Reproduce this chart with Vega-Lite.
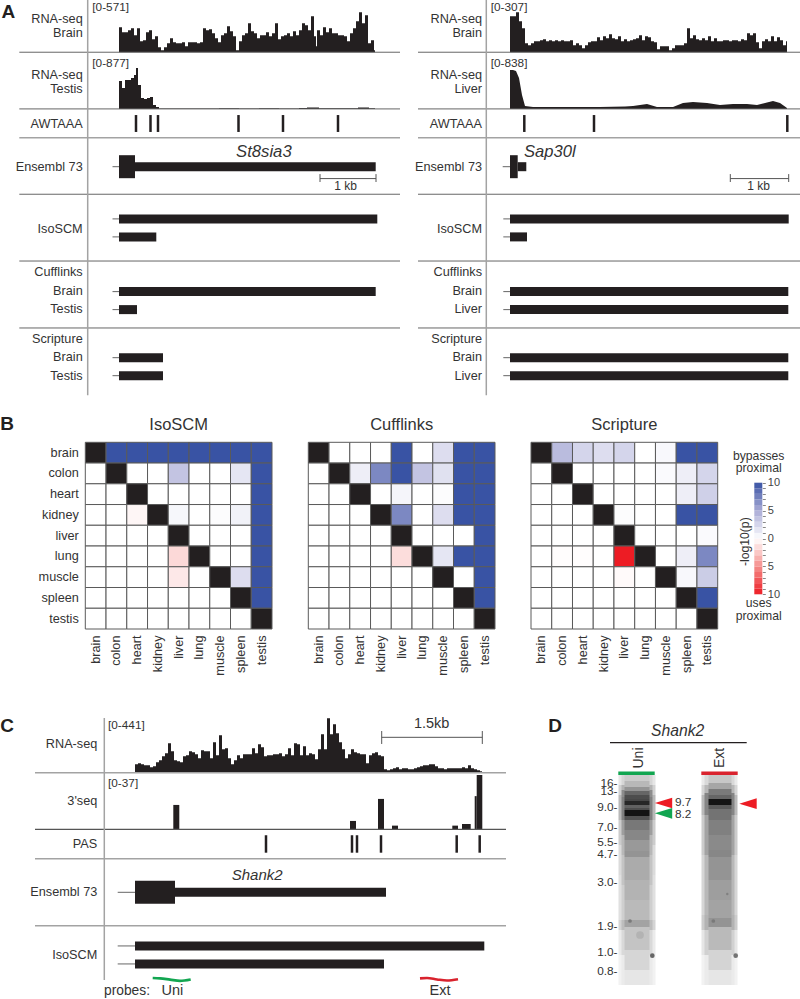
{"$schema":"https://vega.github.io/schema/vega-lite/v6.json","width":800,"height":999,"padding":0,"autosize":{"type":"none"},"background":"white",
"config":{"view":{"stroke":null},"text":{"font":"Liberation Sans","fontSize":12.7,"color":"#333333","baseline":"middle"},"axis":{"grid":false,"domain":false,"title":null,"labelFont":"Liberation Sans","labelColor":"#333333","labelFontSize":12.7}},
"resolve":{"scale":{"x":"independent","y":"independent","color":"independent","strokeWidth":"independent"},"axis":{"x":"independent","y":"independent"}},
"datasets":{
"heat":[
{"m":"IsoSCM","r":"brain","c":"brain","v":0},{"m":"IsoSCM","r":"brain","c":"colon","v":10},{"m":"IsoSCM","r":"brain","c":"heart","v":10},{"m":"IsoSCM","r":"brain","c":"kidney","v":10},{"m":"IsoSCM","r":"brain","c":"liver","v":10},{"m":"IsoSCM","r":"brain","c":"lung","v":10},{"m":"IsoSCM","r":"brain","c":"muscle","v":10},{"m":"IsoSCM","r":"brain","c":"spleen","v":10},{"m":"IsoSCM","r":"brain","c":"testis","v":10},
{"m":"IsoSCM","r":"colon","c":"brain","v":0},{"m":"IsoSCM","r":"colon","c":"colon","v":0},{"m":"IsoSCM","r":"colon","c":"heart","v":0},{"m":"IsoSCM","r":"colon","c":"kidney","v":0},{"m":"IsoSCM","r":"colon","c":"liver","v":3.5},{"m":"IsoSCM","r":"colon","c":"lung","v":0},{"m":"IsoSCM","r":"colon","c":"muscle","v":0},{"m":"IsoSCM","r":"colon","c":"spleen","v":1.5},{"m":"IsoSCM","r":"colon","c":"testis","v":10},
{"m":"IsoSCM","r":"heart","c":"brain","v":0},{"m":"IsoSCM","r":"heart","c":"colon","v":0},{"m":"IsoSCM","r":"heart","c":"heart","v":0},{"m":"IsoSCM","r":"heart","c":"kidney","v":0},{"m":"IsoSCM","r":"heart","c":"liver","v":0},{"m":"IsoSCM","r":"heart","c":"lung","v":0},{"m":"IsoSCM","r":"heart","c":"muscle","v":0},{"m":"IsoSCM","r":"heart","c":"spleen","v":0},{"m":"IsoSCM","r":"heart","c":"testis","v":10},
{"m":"IsoSCM","r":"kidney","c":"brain","v":0},{"m":"IsoSCM","r":"kidney","c":"colon","v":0},{"m":"IsoSCM","r":"kidney","c":"heart","v":-0.4},{"m":"IsoSCM","r":"kidney","c":"kidney","v":0},{"m":"IsoSCM","r":"kidney","c":"liver","v":0.5},{"m":"IsoSCM","r":"kidney","c":"lung","v":0},{"m":"IsoSCM","r":"kidney","c":"muscle","v":0.2},{"m":"IsoSCM","r":"kidney","c":"spleen","v":0.8},{"m":"IsoSCM","r":"kidney","c":"testis","v":10},
{"m":"IsoSCM","r":"liver","c":"brain","v":0},{"m":"IsoSCM","r":"liver","c":"colon","v":0},{"m":"IsoSCM","r":"liver","c":"heart","v":0},{"m":"IsoSCM","r":"liver","c":"kidney","v":0},{"m":"IsoSCM","r":"liver","c":"liver","v":0},{"m":"IsoSCM","r":"liver","c":"lung","v":0},{"m":"IsoSCM","r":"liver","c":"muscle","v":0},{"m":"IsoSCM","r":"liver","c":"spleen","v":0},{"m":"IsoSCM","r":"liver","c":"testis","v":10},
{"m":"IsoSCM","r":"lung","c":"brain","v":0},{"m":"IsoSCM","r":"lung","c":"colon","v":0},{"m":"IsoSCM","r":"lung","c":"heart","v":0},{"m":"IsoSCM","r":"lung","c":"kidney","v":0},{"m":"IsoSCM","r":"lung","c":"liver","v":-1.7},{"m":"IsoSCM","r":"lung","c":"lung","v":0},{"m":"IsoSCM","r":"lung","c":"muscle","v":0},{"m":"IsoSCM","r":"lung","c":"spleen","v":0},{"m":"IsoSCM","r":"lung","c":"testis","v":10},
{"m":"IsoSCM","r":"muscle","c":"brain","v":0},{"m":"IsoSCM","r":"muscle","c":"colon","v":0},{"m":"IsoSCM","r":"muscle","c":"heart","v":0},{"m":"IsoSCM","r":"muscle","c":"kidney","v":0},{"m":"IsoSCM","r":"muscle","c":"liver","v":-1},{"m":"IsoSCM","r":"muscle","c":"lung","v":0},{"m":"IsoSCM","r":"muscle","c":"muscle","v":0},{"m":"IsoSCM","r":"muscle","c":"spleen","v":2},{"m":"IsoSCM","r":"muscle","c":"testis","v":10},
{"m":"IsoSCM","r":"spleen","c":"brain","v":0},{"m":"IsoSCM","r":"spleen","c":"colon","v":0},{"m":"IsoSCM","r":"spleen","c":"heart","v":0},{"m":"IsoSCM","r":"spleen","c":"kidney","v":0},{"m":"IsoSCM","r":"spleen","c":"liver","v":0},{"m":"IsoSCM","r":"spleen","c":"lung","v":0},{"m":"IsoSCM","r":"spleen","c":"muscle","v":0},{"m":"IsoSCM","r":"spleen","c":"spleen","v":0},{"m":"IsoSCM","r":"spleen","c":"testis","v":10},
{"m":"IsoSCM","r":"testis","c":"brain","v":0},{"m":"IsoSCM","r":"testis","c":"colon","v":0},{"m":"IsoSCM","r":"testis","c":"heart","v":0},{"m":"IsoSCM","r":"testis","c":"kidney","v":0},{"m":"IsoSCM","r":"testis","c":"liver","v":0},{"m":"IsoSCM","r":"testis","c":"lung","v":0},{"m":"IsoSCM","r":"testis","c":"muscle","v":0},{"m":"IsoSCM","r":"testis","c":"spleen","v":0},{"m":"IsoSCM","r":"testis","c":"testis","v":0},
{"m":"Cufflinks","r":"brain","c":"brain","v":0},{"m":"Cufflinks","r":"brain","c":"colon","v":0},{"m":"Cufflinks","r":"brain","c":"heart","v":0},{"m":"Cufflinks","r":"brain","c":"kidney","v":0},{"m":"Cufflinks","r":"brain","c":"liver","v":10},{"m":"Cufflinks","r":"brain","c":"lung","v":0},{"m":"Cufflinks","r":"brain","c":"muscle","v":2},{"m":"Cufflinks","r":"brain","c":"spleen","v":10},{"m":"Cufflinks","r":"brain","c":"testis","v":10},
{"m":"Cufflinks","r":"colon","c":"brain","v":0},{"m":"Cufflinks","r":"colon","c":"colon","v":0},{"m":"Cufflinks","r":"colon","c":"heart","v":1},{"m":"Cufflinks","r":"colon","c":"kidney","v":7},{"m":"Cufflinks","r":"colon","c":"liver","v":10},{"m":"Cufflinks","r":"colon","c":"lung","v":3.5},{"m":"Cufflinks","r":"colon","c":"muscle","v":1.8},{"m":"Cufflinks","r":"colon","c":"spleen","v":10},{"m":"Cufflinks","r":"colon","c":"testis","v":10},
{"m":"Cufflinks","r":"heart","c":"brain","v":0},{"m":"Cufflinks","r":"heart","c":"colon","v":0},{"m":"Cufflinks","r":"heart","c":"heart","v":0},{"m":"Cufflinks","r":"heart","c":"kidney","v":0},{"m":"Cufflinks","r":"heart","c":"liver","v":0.6},{"m":"Cufflinks","r":"heart","c":"lung","v":0},{"m":"Cufflinks","r":"heart","c":"muscle","v":0.2},{"m":"Cufflinks","r":"heart","c":"spleen","v":10},{"m":"Cufflinks","r":"heart","c":"testis","v":10},
{"m":"Cufflinks","r":"kidney","c":"brain","v":0},{"m":"Cufflinks","r":"kidney","c":"colon","v":0},{"m":"Cufflinks","r":"kidney","c":"heart","v":0},{"m":"Cufflinks","r":"kidney","c":"kidney","v":0},{"m":"Cufflinks","r":"kidney","c":"liver","v":7},{"m":"Cufflinks","r":"kidney","c":"lung","v":0},{"m":"Cufflinks","r":"kidney","c":"muscle","v":2},{"m":"Cufflinks","r":"kidney","c":"spleen","v":10},{"m":"Cufflinks","r":"kidney","c":"testis","v":10},
{"m":"Cufflinks","r":"liver","c":"brain","v":0},{"m":"Cufflinks","r":"liver","c":"colon","v":0},{"m":"Cufflinks","r":"liver","c":"heart","v":0},{"m":"Cufflinks","r":"liver","c":"kidney","v":0},{"m":"Cufflinks","r":"liver","c":"liver","v":0},{"m":"Cufflinks","r":"liver","c":"lung","v":0},{"m":"Cufflinks","r":"liver","c":"muscle","v":0},{"m":"Cufflinks","r":"liver","c":"spleen","v":0},{"m":"Cufflinks","r":"liver","c":"testis","v":10},
{"m":"Cufflinks","r":"lung","c":"brain","v":0},{"m":"Cufflinks","r":"lung","c":"colon","v":0},{"m":"Cufflinks","r":"lung","c":"heart","v":0},{"m":"Cufflinks","r":"lung","c":"kidney","v":0},{"m":"Cufflinks","r":"lung","c":"liver","v":-1.5},{"m":"Cufflinks","r":"lung","c":"lung","v":0},{"m":"Cufflinks","r":"lung","c":"muscle","v":1.5},{"m":"Cufflinks","r":"lung","c":"spleen","v":10},{"m":"Cufflinks","r":"lung","c":"testis","v":10},
{"m":"Cufflinks","r":"muscle","c":"brain","v":0},{"m":"Cufflinks","r":"muscle","c":"colon","v":0},{"m":"Cufflinks","r":"muscle","c":"heart","v":0},{"m":"Cufflinks","r":"muscle","c":"kidney","v":0},{"m":"Cufflinks","r":"muscle","c":"liver","v":0},{"m":"Cufflinks","r":"muscle","c":"lung","v":0},{"m":"Cufflinks","r":"muscle","c":"muscle","v":0},{"m":"Cufflinks","r":"muscle","c":"spleen","v":0},{"m":"Cufflinks","r":"muscle","c":"testis","v":10},
{"m":"Cufflinks","r":"spleen","c":"brain","v":0},{"m":"Cufflinks","r":"spleen","c":"colon","v":0},{"m":"Cufflinks","r":"spleen","c":"heart","v":0},{"m":"Cufflinks","r":"spleen","c":"kidney","v":0},{"m":"Cufflinks","r":"spleen","c":"liver","v":0},{"m":"Cufflinks","r":"spleen","c":"lung","v":0},{"m":"Cufflinks","r":"spleen","c":"muscle","v":0},{"m":"Cufflinks","r":"spleen","c":"spleen","v":0},{"m":"Cufflinks","r":"spleen","c":"testis","v":10},
{"m":"Cufflinks","r":"testis","c":"brain","v":0},{"m":"Cufflinks","r":"testis","c":"colon","v":0},{"m":"Cufflinks","r":"testis","c":"heart","v":0},{"m":"Cufflinks","r":"testis","c":"kidney","v":0},{"m":"Cufflinks","r":"testis","c":"liver","v":0},{"m":"Cufflinks","r":"testis","c":"lung","v":0},{"m":"Cufflinks","r":"testis","c":"muscle","v":0},{"m":"Cufflinks","r":"testis","c":"spleen","v":0},{"m":"Cufflinks","r":"testis","c":"testis","v":0},
{"m":"Scripture","r":"brain","c":"brain","v":0},{"m":"Scripture","r":"brain","c":"colon","v":4},{"m":"Scripture","r":"brain","c":"heart","v":2.5},{"m":"Scripture","r":"brain","c":"kidney","v":2},{"m":"Scripture","r":"brain","c":"liver","v":2.5},{"m":"Scripture","r":"brain","c":"lung","v":0},{"m":"Scripture","r":"brain","c":"muscle","v":0.4},{"m":"Scripture","r":"brain","c":"spleen","v":10},{"m":"Scripture","r":"brain","c":"testis","v":10},
{"m":"Scripture","r":"colon","c":"brain","v":0},{"m":"Scripture","r":"colon","c":"colon","v":0},{"m":"Scripture","r":"colon","c":"heart","v":0},{"m":"Scripture","r":"colon","c":"kidney","v":0},{"m":"Scripture","r":"colon","c":"liver","v":0},{"m":"Scripture","r":"colon","c":"lung","v":0},{"m":"Scripture","r":"colon","c":"muscle","v":0.3},{"m":"Scripture","r":"colon","c":"spleen","v":1},{"m":"Scripture","r":"colon","c":"testis","v":2.5},
{"m":"Scripture","r":"heart","c":"brain","v":0},{"m":"Scripture","r":"heart","c":"colon","v":0},{"m":"Scripture","r":"heart","c":"heart","v":0},{"m":"Scripture","r":"heart","c":"kidney","v":0},{"m":"Scripture","r":"heart","c":"liver","v":0},{"m":"Scripture","r":"heart","c":"lung","v":0},{"m":"Scripture","r":"heart","c":"muscle","v":0},{"m":"Scripture","r":"heart","c":"spleen","v":1},{"m":"Scripture","r":"heart","c":"testis","v":2.8},
{"m":"Scripture","r":"kidney","c":"brain","v":0},{"m":"Scripture","r":"kidney","c":"colon","v":0},{"m":"Scripture","r":"kidney","c":"heart","v":0},{"m":"Scripture","r":"kidney","c":"kidney","v":0},{"m":"Scripture","r":"kidney","c":"liver","v":0.2},{"m":"Scripture","r":"kidney","c":"lung","v":0},{"m":"Scripture","r":"kidney","c":"muscle","v":0},{"m":"Scripture","r":"kidney","c":"spleen","v":10},{"m":"Scripture","r":"kidney","c":"testis","v":10},
{"m":"Scripture","r":"liver","c":"brain","v":0},{"m":"Scripture","r":"liver","c":"colon","v":0},{"m":"Scripture","r":"liver","c":"heart","v":0},{"m":"Scripture","r":"liver","c":"kidney","v":0},{"m":"Scripture","r":"liver","c":"liver","v":0},{"m":"Scripture","r":"liver","c":"lung","v":0},{"m":"Scripture","r":"liver","c":"muscle","v":0},{"m":"Scripture","r":"liver","c":"spleen","v":0},{"m":"Scripture","r":"liver","c":"testis","v":0.3},
{"m":"Scripture","r":"lung","c":"brain","v":0},{"m":"Scripture","r":"lung","c":"colon","v":-0.1},{"m":"Scripture","r":"lung","c":"heart","v":-0.1},{"m":"Scripture","r":"lung","c":"kidney","v":0},{"m":"Scripture","r":"lung","c":"liver","v":-10},{"m":"Scripture","r":"lung","c":"lung","v":0},{"m":"Scripture","r":"lung","c":"muscle","v":0},{"m":"Scripture","r":"lung","c":"spleen","v":1},{"m":"Scripture","r":"lung","c":"testis","v":7},
{"m":"Scripture","r":"muscle","c":"brain","v":0},{"m":"Scripture","r":"muscle","c":"colon","v":0},{"m":"Scripture","r":"muscle","c":"heart","v":0},{"m":"Scripture","r":"muscle","c":"kidney","v":0},{"m":"Scripture","r":"muscle","c":"liver","v":-0.2},{"m":"Scripture","r":"muscle","c":"lung","v":0},{"m":"Scripture","r":"muscle","c":"muscle","v":0},{"m":"Scripture","r":"muscle","c":"spleen","v":0.4},{"m":"Scripture","r":"muscle","c":"testis","v":3},
{"m":"Scripture","r":"spleen","c":"brain","v":0},{"m":"Scripture","r":"spleen","c":"colon","v":0},{"m":"Scripture","r":"spleen","c":"heart","v":0},{"m":"Scripture","r":"spleen","c":"kidney","v":0},{"m":"Scripture","r":"spleen","c":"liver","v":0},{"m":"Scripture","r":"spleen","c":"lung","v":0},{"m":"Scripture","r":"spleen","c":"muscle","v":0},{"m":"Scripture","r":"spleen","c":"spleen","v":0},{"m":"Scripture","r":"spleen","c":"testis","v":10},
{"m":"Scripture","r":"testis","c":"brain","v":0},{"m":"Scripture","r":"testis","c":"colon","v":0},{"m":"Scripture","r":"testis","c":"heart","v":0},{"m":"Scripture","r":"testis","c":"kidney","v":0},{"m":"Scripture","r":"testis","c":"liver","v":0},{"m":"Scripture","r":"testis","c":"lung","v":0},{"m":"Scripture","r":"testis","c":"muscle","v":0},{"m":"Scripture","r":"testis","c":"spleen","v":0},{"m":"Scripture","r":"testis","c":"testis","v":0}]
},
"layer":[
{"data":{"values":[{"p":0,"v":25},{"p":3,"v":20},{"p":6,"v":20},{"p":9,"v":22},{"p":12,"v":24},{"p":15,"v":17},{"p":18,"v":24},{"p":21,"v":11},{"p":24,"v":12},{"p":27,"v":20},{"p":30,"v":22},{"p":33,"v":13},{"p":36,"v":16},{"p":39,"v":5},{"p":42,"v":2},{"p":45,"v":5},{"p":48,"v":9},{"p":51,"v":14},{"p":54,"v":10},{"p":57,"v":9},{"p":60,"v":9},{"p":63,"v":10},{"p":66,"v":6},{"p":69,"v":10},{"p":72,"v":10},{"p":75,"v":10},{"p":78,"v":9},{"p":81,"v":10},{"p":84,"v":24},{"p":87,"v":22},{"p":90,"v":23},{"p":93,"v":19},{"p":96,"v":14},{"p":99,"v":10},{"p":102,"v":17},{"p":105,"v":19},{"p":108,"v":26},{"p":111,"v":21},{"p":114,"v":16},{"p":117,"v":2},{"p":120,"v":11},{"p":123,"v":17},{"p":126,"v":19},{"p":129,"v":29},{"p":132,"v":21},{"p":135,"v":19},{"p":138,"v":14},{"p":141,"v":17},{"p":144,"v":17},{"p":147,"v":20},{"p":150,"v":16},{"p":153,"v":19},{"p":156,"v":29},{"p":159,"v":13},{"p":162,"v":16},{"p":165,"v":17},{"p":168,"v":19},{"p":171,"v":16},{"p":174,"v":21},{"p":177,"v":17},{"p":180,"v":22},{"p":183,"v":29},{"p":186,"v":27},{"p":189,"v":22},{"p":192,"v":36},{"p":195,"v":16},{"p":197,"v":6},{"p":198,"v":22},{"p":201,"v":17},{"p":204,"v":25},{"p":207,"v":20},{"p":210,"v":24},{"p":213,"v":19},{"p":216,"v":19},{"p":219,"v":17},{"p":222,"v":17},{"p":225,"v":16},{"p":228,"v":11},{"p":231,"v":19},{"p":234,"v":24},{"p":237,"v":31},{"p":240,"v":40},{"p":243,"v":29},{"p":246,"v":37},{"p":249,"v":9},{"p":252,"v":12},{"p":255,"v":2},{"p":256,"v":0}]},
"mark":{"type":"area","color":"#231f20","interpolate":"step-after"},"encoding":{"x":{"field":"p","type":"quantitative","axis":null,"scale":{"domain":[0,256],"range":[119,375],"nice":false,"zero":false}},"y":{"field":"v","type":"quantitative","stack":null,"axis":null,"scale":{"domain":[0,40],"range":[52.3,12.3],"nice":false,"zero":false}}}},
{"data":{"values":[{"p":0,"v":28},{"p":3,"v":21},{"p":6,"v":29},{"p":9,"v":29},{"p":12,"v":31},{"p":15,"v":34},{"p":17,"v":41},{"p":19,"v":24},{"p":22,"v":11},{"p":25,"v":10},{"p":28,"v":11},{"p":31,"v":12},{"p":34,"v":4},{"p":37,"v":2},{"p":40,"v":0.5},{"p":60,"v":0.4},{"p":80,"v":0.6},{"p":100,"v":0.7},{"p":120,"v":0.6},{"p":140,"v":0.7},{"p":160,"v":0.6},{"p":180,"v":1},{"p":188,"v":1.5},{"p":200,"v":0.7},{"p":220,"v":0.7},{"p":239,"v":1.5},{"p":250,"v":0.8},{"p":256,"v":0}]},
"mark":{"type":"area","color":"#231f20","interpolate":"step-after"},"encoding":{"x":{"field":"p","type":"quantitative","axis":null,"scale":{"domain":[0,256],"range":[119,375],"nice":false,"zero":false}},"y":{"field":"v","type":"quantitative","stack":null,"axis":null,"scale":{"domain":[0,40],"range":[109,69],"nice":false,"zero":false}}}},
{"data":{"values":[{"p":0,"v":36},{"p":3,"v":36},{"p":6,"v":40},{"p":9,"v":31},{"p":12,"v":24},{"p":15,"v":9},{"p":18,"v":7},{"p":21,"v":9},{"p":24,"v":11},{"p":27,"v":11},{"p":30,"v":12},{"p":33,"v":13},{"p":36,"v":11},{"p":39,"v":12},{"p":42,"v":11},{"p":45,"v":12},{"p":48,"v":11},{"p":51,"v":12},{"p":54,"v":11},{"p":57,"v":11},{"p":60,"v":12},{"p":63,"v":7},{"p":66,"v":9},{"p":69,"v":7},{"p":72,"v":4},{"p":75,"v":7},{"p":78,"v":10},{"p":81,"v":11},{"p":84,"v":11},{"p":87,"v":15},{"p":90,"v":12},{"p":93,"v":16},{"p":96,"v":14},{"p":99,"v":18},{"p":102,"v":14},{"p":105,"v":13},{"p":108,"v":16},{"p":111,"v":11},{"p":114,"v":13},{"p":117,"v":11},{"p":120,"v":12},{"p":123,"v":13},{"p":126,"v":14},{"p":129,"v":17},{"p":132,"v":12},{"p":135,"v":16},{"p":138,"v":15},{"p":141,"v":11},{"p":144,"v":10},{"p":147,"v":3},{"p":150,"v":6},{"p":153,"v":6},{"p":156,"v":6},{"p":159,"v":2},{"p":162,"v":4},{"p":165,"v":7},{"p":168,"v":7},{"p":171,"v":7},{"p":174,"v":9},{"p":177,"v":24},{"p":180,"v":14},{"p":183,"v":17},{"p":186,"v":13},{"p":189,"v":12},{"p":192,"v":14},{"p":195,"v":12},{"p":198,"v":16},{"p":201,"v":11},{"p":204,"v":14},{"p":207,"v":11},{"p":210,"v":11},{"p":213,"v":12},{"p":216,"v":12},{"p":219,"v":11},{"p":222,"v":12},{"p":225,"v":12},{"p":228,"v":11},{"p":231,"v":13},{"p":234,"v":12},{"p":237,"v":19},{"p":240,"v":17},{"p":243,"v":19},{"p":246,"v":10},{"p":249,"v":4},{"p":252,"v":11},{"p":255,"v":13},{"p":258,"v":11},{"p":261,"v":16},{"p":264,"v":11},{"p":267,"v":15},{"p":270,"v":12},{"p":273,"v":7},{"p":276,"v":11},{"p":277,"v":0}]},
"mark":{"type":"area","color":"#231f20","interpolate":"step-after"},"encoding":{"x":{"field":"p","type":"quantitative","axis":null,"scale":{"domain":[0,277],"range":[510,787],"nice":false,"zero":false}},"y":{"field":"v","type":"quantitative","stack":null,"axis":null,"scale":{"domain":[0,40],"range":[52.3,12.3],"nice":false,"zero":false}}}},
{"data":{"values":[{"p":0,"v":39},{"p":3,"v":39},{"p":6,"v":38},{"p":9,"v":31},{"p":12,"v":14},{"p":15,"v":3},{"p":23,"v":2},{"p":50,"v":2},{"p":90,"v":2},{"p":115,"v":2.5},{"p":123,"v":3},{"p":137,"v":5},{"p":147,"v":2},{"p":163,"v":2},{"p":173,"v":6},{"p":183,"v":7},{"p":197,"v":6},{"p":210,"v":4},{"p":223,"v":5},{"p":237,"v":5},{"p":247,"v":4},{"p":263,"v":8},{"p":270,"v":6},{"p":277,"v":1}]},
"mark":{"type":"area","color":"#231f20"},"encoding":{"x":{"field":"p","type":"quantitative","axis":null,"scale":{"domain":[0,277],"range":[510,787],"nice":false,"zero":false}},"y":{"field":"v","type":"quantitative","stack":null,"axis":null,"scale":{"domain":[0,40],"range":[109,69],"nice":false,"zero":false}}}},
{"data":{"values":[
{"p":-99.7,"p2":281,"l":-6.36,"l2":-6.36,"k":"divider"},{"p":-99.7,"p2":281,"l":-3.21,"l2":-3.21,"k":"divider"},{"p":-99.7,"p2":281,"l":-1.61,"l2":-1.61,"k":"axis"},{"p":-99.7,"p2":281,"l":1.53,"l2":1.53,"k":"divider"},{"p":-99.7,"p2":281,"l":5.24,"l2":5.24,"k":"divider"},{"p":-99.7,"p2":281,"l":8.96,"l2":8.96,"k":"divider"},{"p":-31.3,"p2":-31.3,"l":-9.26,"l2":12.7,"k":"axis"},
{"p":17,"p2":17,"l":-2.87,"l2":-1.93,"k":"pas"},{"p":31.5,"p2":31.5,"l":-2.87,"l2":-1.93,"k":"pas"},{"p":39,"p2":39,"l":-2.87,"l2":-1.93,"k":"pas"},{"p":119.5,"p2":119.5,"l":-2.87,"l2":-1.93,"k":"pas"},{"p":164,"p2":164,"l":-2.87,"l2":-1.93,"k":"pas"},{"p":219,"p2":219,"l":-2.87,"l2":-1.93,"k":"pas"},
{"p":-6.5,"p2":0,"l":0,"l2":0,"k":"lead"},{"p":0,"p2":16,"l":0,"l2":0,"k":"exon"},{"p":16,"p2":256.7,"l":0,"l2":0,"k":"utr"},
{"p":201,"p2":257,"l":0.66,"l2":0.66,"k":"scale"},{"p":201,"p2":201,"l":0.41,"l2":0.85,"k":"scale"},{"p":257,"p2":257,"l":0.41,"l2":0.85,"k":"scale"},
{"p":-6.5,"p2":0,"l":2.9,"l2":2.9,"k":"lead"},{"p":0,"p2":258.3,"l":2.9,"l2":2.9,"k":"utr"},{"p":-6.5,"p2":0,"l":3.9,"l2":3.9,"k":"lead"},{"p":0,"p2":37.3,"l":3.9,"l2":3.9,"k":"utr"},
{"p":-6.5,"p2":0,"l":6.94,"l2":6.94,"k":"lead"},{"p":0,"p2":256.7,"l":6.94,"l2":6.94,"k":"utr"},{"p":-6.5,"p2":0,"l":7.94,"l2":7.94,"k":"lead"},{"p":0,"p2":18,"l":7.94,"l2":7.94,"k":"utr"},
{"p":-6.5,"p2":0,"l":10.61,"l2":10.61,"k":"lead"},{"p":0,"p2":44,"l":10.61,"l2":10.61,"k":"utr"},{"p":-6.5,"p2":0,"l":11.61,"l2":11.61,"k":"lead"},{"p":0,"p2":44,"l":11.61,"l2":11.61,"k":"utr"}]},
"mark":"rule","encoding":{"x":{"field":"p","type":"quantitative","axis":null,"scale":{"domain":[0,256],"range":[119,375],"nice":false,"zero":false}},"x2":{"field":"p2"},"y":{"field":"l","type":"quantitative","axis":null,"scale":{"domain":[-10,15],"range":[-13.3,436.7],"nice":false,"zero":false}},"y2":{"field":"l2"},"strokeWidth":{"field":"k","type":"nominal","legend":null,"scale":{"type":"ordinal","domain":["lead","utr","exon","divider","axis","scale","pas"],"range":[1,9,23,1,1.5,1,2.5]}},"color":{"field":"k","type":"nominal","legend":null,"scale":{"domain":["lead","utr","exon","divider","axis","scale","pas"],"range":["#666666","#231f20","#231f20","#666666","#a3a3a3","#555555","#231f20"]}}}},
{"data":{"values":[
{"p":-92,"p2":290,"l":-6.36,"l2":-6.36,"k":"divider"},{"p":-92,"p2":290,"l":-3.21,"l2":-3.21,"k":"divider"},{"p":-92,"p2":290,"l":-1.61,"l2":-1.61,"k":"axis"},{"p":-92,"p2":290,"l":1.53,"l2":1.53,"k":"divider"},{"p":-92,"p2":290,"l":5.24,"l2":5.24,"k":"divider"},{"p":-92,"p2":290,"l":8.96,"l2":8.96,"k":"divider"},{"p":-23.7,"p2":-23.7,"l":-9.26,"l2":12.7,"k":"axis"},
{"p":14.3,"p2":14.3,"l":-2.87,"l2":-1.93,"k":"pas"},{"p":84,"p2":84,"l":-2.87,"l2":-1.93,"k":"pas"},{"p":277.3,"p2":277.3,"l":-2.87,"l2":-1.93,"k":"pas"},
{"p":-7.3,"p2":0,"l":0,"l2":0,"k":"lead"},{"p":7.7,"p2":16.3,"l":0,"l2":0,"k":"utr"},{"p":0,"p2":7.7,"l":0,"l2":0,"k":"exon"},
{"p":220.3,"p2":278.7,"l":0.66,"l2":0.66,"k":"scale"},{"p":220.3,"p2":220.3,"l":0.41,"l2":0.85,"k":"scale"},{"p":278.7,"p2":278.7,"l":0.41,"l2":0.85,"k":"scale"},
{"p":-6.7,"p2":0,"l":2.9,"l2":2.9,"k":"lead"},{"p":0,"p2":278.7,"l":2.9,"l2":2.9,"k":"utr"},{"p":-6.7,"p2":0,"l":3.9,"l2":3.9,"k":"lead"},{"p":0,"p2":17,"l":3.9,"l2":3.9,"k":"utr"},
{"p":-6.7,"p2":0,"l":6.94,"l2":6.94,"k":"lead"},{"p":0,"p2":278.3,"l":6.94,"l2":6.94,"k":"utr"},{"p":-6.7,"p2":0,"l":7.94,"l2":7.94,"k":"lead"},{"p":0,"p2":278.3,"l":7.94,"l2":7.94,"k":"utr"},
{"p":-6.7,"p2":0,"l":10.61,"l2":10.61,"k":"lead"},{"p":0,"p2":278.3,"l":10.61,"l2":10.61,"k":"utr"},{"p":-6.7,"p2":0,"l":11.61,"l2":11.61,"k":"lead"},{"p":0,"p2":278.3,"l":11.61,"l2":11.61,"k":"utr"}]},
"mark":"rule","encoding":{"x":{"field":"p","type":"quantitative","axis":null,"scale":{"domain":[0,277],"range":[510,787],"nice":false,"zero":false}},"x2":{"field":"p2"},"y":{"field":"l","type":"quantitative","axis":null,"scale":{"domain":[-10,15],"range":[-13.3,436.7],"nice":false,"zero":false}},"y2":{"field":"l2"},"strokeWidth":{"field":"k","type":"nominal","legend":null,"scale":{"type":"ordinal","domain":["lead","utr","exon","divider","axis","scale","pas"],"range":[1,9,23,1,1.5,1,2.5]}},"color":{"field":"k","type":"nominal","legend":null,"scale":{"domain":["lead","utr","exon","divider","axis","scale","pas"],"range":["#666666","#231f20","#231f20","#666666","#a3a3a3","#555555","#231f20"]}}}},
{"data":{"values":[{"t":"RNA-seq","p":-36.3,"l":-8.18},{"t":"Brain","p":-36.3,"l":-7.43},{"t":"RNA-seq","p":-36.3,"l":-5.09},{"t":"Testis","p":-36.3,"l":-4.32},{"t":"AWTAAA","p":-36.3,"l":-2.37},{"t":"Ensembl 73","p":-36.3,"l":0},{"t":"IsoSCM","p":-36.3,"l":3.46},{"t":"Cufflinks","p":-36.3,"l":5.85},{"t":"Brain","p":-36.3,"l":6.91},{"t":"Testis","p":-36.3,"l":7.91},{"t":"Scripture","p":-36.3,"l":9.57},{"t":"Brain","p":-36.3,"l":10.59},{"t":"Testis","p":-36.3,"l":11.61}]},
"mark":{"type":"text","align":"right"},"encoding":{"text":{"field":"t"},"x":{"field":"p","type":"quantitative","axis":null,"scale":{"domain":[0,256],"range":[119,375],"nice":false,"zero":false}},"y":{"field":"l","type":"quantitative","axis":null,"scale":{"domain":[-10,15],"range":[-13.3,436.7],"nice":false,"zero":false}}}},
{"data":{"values":[{"t":"RNA-seq","p":-28,"l":-8.18},{"t":"Brain","p":-28,"l":-7.43},{"t":"RNA-seq","p":-28,"l":-5.09},{"t":"Liver","p":-28,"l":-4.32},{"t":"AWTAAA","p":-28,"l":-2.37},{"t":"Ensembl 73","p":-28,"l":0},{"t":"IsoSCM","p":-28,"l":3.46},{"t":"Cufflinks","p":-28,"l":5.85},{"t":"Brain","p":-28,"l":6.91},{"t":"Liver","p":-28,"l":7.91},{"t":"Scripture","p":-28,"l":9.57},{"t":"Brain","p":-28,"l":10.59},{"t":"Liver","p":-28,"l":11.61}]},
"mark":{"type":"text","align":"right"},"encoding":{"text":{"field":"t"},"x":{"field":"p","type":"quantitative","axis":null,"scale":{"domain":[0,277],"range":[510,787],"nice":false,"zero":false}},"y":{"field":"l","type":"quantitative","axis":null,"scale":{"domain":[-10,15],"range":[-13.3,436.7],"nice":false,"zero":false}}}},
{"data":{"values":[{"t":"[0-571]","p":-26.7,"l":-8.89},{"t":"[0-877]","p":-26.7,"l":-5.74}]},"mark":{"type":"text","align":"left","fontSize":11.8},"encoding":{"text":{"field":"t"},"x":{"field":"p","type":"quantitative","axis":null,"scale":{"domain":[0,256],"range":[119,375],"nice":false,"zero":false}},"y":{"field":"l","type":"quantitative","axis":null,"scale":{"domain":[-10,15],"range":[-13.3,436.7],"nice":false,"zero":false}}}},
{"data":{"values":[{"t":"[0-307]","p":-19.3,"l":-8.89},{"t":"[0-838]","p":-19.3,"l":-5.74}]},"mark":{"type":"text","align":"left","fontSize":11.8},"encoding":{"text":{"field":"t"},"x":{"field":"p","type":"quantitative","axis":null,"scale":{"domain":[0,277],"range":[510,787],"nice":false,"zero":false}},"y":{"field":"l","type":"quantitative","axis":null,"scale":{"domain":[-10,15],"range":[-13.3,436.7],"nice":false,"zero":false}}}},
{"data":{"values":[{"t":"1 kb","p":226.7,"l":1.05}]},"mark":{"type":"text","align":"center","fontSize":12},"encoding":{"text":{"field":"t"},"x":{"field":"p","type":"quantitative","axis":null,"scale":{"domain":[0,256],"range":[119,375],"nice":false,"zero":false}},"y":{"field":"l","type":"quantitative","axis":null,"scale":{"domain":[-10,15],"range":[-13.3,436.7],"nice":false,"zero":false}}}},
{"data":{"values":[{"t":"1 kb","p":248.7,"l":1.05}]},"mark":{"type":"text","align":"center","fontSize":12},"encoding":{"text":{"field":"t"},"x":{"field":"p","type":"quantitative","axis":null,"scale":{"domain":[0,277],"range":[510,787],"nice":false,"zero":false}},"y":{"field":"l","type":"quantitative","axis":null,"scale":{"domain":[-10,15],"range":[-13.3,436.7],"nice":false,"zero":false}}}},
{"data":{"values":[{"t":"St8sia3","p":117,"l":-0.83}]},"mark":{"type":"text","align":"left","fontSize":16.7,"fontStyle":"italic"},"encoding":{"text":{"field":"t"},"x":{"field":"p","type":"quantitative","axis":null,"scale":{"domain":[0,256],"range":[119,375],"nice":false,"zero":false}},"y":{"field":"l","type":"quantitative","axis":null,"scale":{"domain":[-10,15],"range":[-13.3,436.7],"nice":false,"zero":false}}}},
{"data":{"values":[{"t":"Sap30l","p":14,"l":-0.83}]},"mark":{"type":"text","align":"left","fontSize":16.6,"fontStyle":"italic"},"encoding":{"text":{"field":"t"},"x":{"field":"p","type":"quantitative","axis":null,"scale":{"domain":[0,277],"range":[510,787],"nice":false,"zero":false}},"y":{"field":"l","type":"quantitative","axis":null,"scale":{"domain":[-10,15],"range":[-13.3,436.7],"nice":false,"zero":false}}}},
{"data":{"name":"heat"},"transform":[{"filter":"datum.m==='IsoSCM'"}],"mark":{"type":"rect","stroke":"#5a5a5a","strokeWidth":1},"encoding":{"x":{"field":"c","type":"nominal","sort":null,"axis":{"orient":"bottom","offset":-370,"ticks":false,"labelAngle":-90,"labelPadding":6},"scale":{"domain":["brain","colon","heart","kidney","liver","lung","muscle","spleen","testis"],"range":[85.3,272],"paddingInner":0,"paddingOuter":0}},"y":{"field":"r","type":"nominal","sort":null,"axis":{"orient":"left","offset":-85.3,"ticks":false,"labelPadding":7},"scale":{"domain":["brain","colon","heart","kidney","liver","lung","muscle","spleen","testis"],"range":[442.3,629],"paddingInner":0,"paddingOuter":0}},"color":{"condition":{"test":"datum.r===datum.c","value":"#231f20"},"field":"v","type":"quantitative","legend":null,"scale":{"interpolate":"rgb","domain":[-10,-5,0,5,10],"range":["#ed1c24","#f58e8b","#ffffff","#a9abd6","#3953a4"]}}}},
{"data":{"name":"heat"},"transform":[{"filter":"datum.m==='Cufflinks'"}],"mark":{"type":"rect","stroke":"#5a5a5a","strokeWidth":1},"encoding":{"x":{"field":"c","type":"nominal","sort":null,"axis":{"orient":"bottom","offset":-370,"ticks":false,"labelAngle":-90,"labelPadding":6},"scale":{"domain":["brain","colon","heart","kidney","liver","lung","muscle","spleen","testis"],"range":[308.3,495],"paddingInner":0,"paddingOuter":0}},"y":{"field":"r","type":"nominal","sort":null,"axis":null,"scale":{"domain":["brain","colon","heart","kidney","liver","lung","muscle","spleen","testis"],"range":[442.3,629],"paddingInner":0,"paddingOuter":0}},"color":{"condition":{"test":"datum.r===datum.c","value":"#231f20"},"field":"v","type":"quantitative","legend":null,"scale":{"interpolate":"rgb","domain":[-10,-5,0,5,10],"range":["#ed1c24","#f58e8b","#ffffff","#a9abd6","#3953a4"]}}}},
{"data":{"name":"heat"},"transform":[{"filter":"datum.m==='Scripture'"}],"mark":{"type":"rect","stroke":"#5a5a5a","strokeWidth":1},"encoding":{"x":{"field":"c","type":"nominal","sort":null,"axis":{"orient":"bottom","offset":-370,"ticks":false,"labelAngle":-90,"labelPadding":6},"scale":{"domain":["brain","colon","heart","kidney","liver","lung","muscle","spleen","testis"],"range":[531,717.7],"paddingInner":0,"paddingOuter":0}},"y":{"field":"r","type":"nominal","sort":null,"axis":null,"scale":{"domain":["brain","colon","heart","kidney","liver","lung","muscle","spleen","testis"],"range":[442.3,629],"paddingInner":0,"paddingOuter":0}},"color":{"condition":{"test":"datum.r===datum.c","value":"#231f20"},"field":"v","type":"quantitative","legend":null,"scale":{"interpolate":"rgb","domain":[-10,-5,0,5,10],"range":["#ed1c24","#f58e8b","#ffffff","#a9abd6","#3953a4"]}}}},
{"data":{"values":[{"t":"IsoSCM","c":"liver","r":"brain"}]},"mark":{"type":"text","fontSize":16.5,"dy":-28},"encoding":{"text":{"field":"t"},"x":{"field":"c","type":"nominal","axis":null,"scale":{"domain":["brain","colon","heart","kidney","liver","lung","muscle","spleen","testis"],"range":[85.3,272],"paddingInner":0,"paddingOuter":0}},"y":{"field":"r","type":"nominal","axis":null,"scale":{"domain":["brain","colon","heart","kidney","liver","lung","muscle","spleen","testis"],"range":[442.3,629],"paddingInner":0,"paddingOuter":0}}}},
{"data":{"values":[{"t":"Cufflinks","c":"liver","r":"brain"}]},"mark":{"type":"text","fontSize":16.5,"dy":-28},"encoding":{"text":{"field":"t"},"x":{"field":"c","type":"nominal","axis":null,"scale":{"domain":["brain","colon","heart","kidney","liver","lung","muscle","spleen","testis"],"range":[308.3,495],"paddingInner":0,"paddingOuter":0}},"y":{"field":"r","type":"nominal","axis":null,"scale":{"domain":["brain","colon","heart","kidney","liver","lung","muscle","spleen","testis"],"range":[442.3,629],"paddingInner":0,"paddingOuter":0}}}},
{"data":{"values":[{"t":"Scripture","c":"liver","r":"brain"}]},"mark":{"type":"text","fontSize":16.5,"dy":-28},"encoding":{"text":{"field":"t"},"x":{"field":"c","type":"nominal","axis":null,"scale":{"domain":["brain","colon","heart","kidney","liver","lung","muscle","spleen","testis"],"range":[531,717.7],"paddingInner":0,"paddingOuter":0}},"y":{"field":"r","type":"nominal","axis":null,"scale":{"domain":["brain","colon","heart","kidney","liver","lung","muscle","spleen","testis"],"range":[442.3,629],"paddingInner":0,"paddingOuter":0}}}},
{"data":{"values":[{"lo":-10,"hi":-9,"mid":-9.5},{"lo":-9,"hi":-8,"mid":-8.5},{"lo":-8,"hi":-7,"mid":-7.5},{"lo":-7,"hi":-6,"mid":-6.5},{"lo":-6,"hi":-5,"mid":-5.5},{"lo":-5,"hi":-4,"mid":-4.5},{"lo":-4,"hi":-3,"mid":-3.5},{"lo":-3,"hi":-2,"mid":-2.5},{"lo":-2,"hi":-1,"mid":-1.5},{"lo":-1,"hi":0,"mid":-0.5},{"lo":0,"hi":1,"mid":0.5},{"lo":1,"hi":2,"mid":1.5},{"lo":2,"hi":3,"mid":2.5},{"lo":3,"hi":4,"mid":3.5},{"lo":4,"hi":5,"mid":4.5},{"lo":5,"hi":6,"mid":5.5},{"lo":6,"hi":7,"mid":6.5},{"lo":7,"hi":8,"mid":7.5},{"lo":8,"hi":9,"mid":8.5},{"lo":9,"hi":10,"mid":9.5}]},
"mark":"rect","encoding":{"x":{"datum":0,"type":"quantitative","axis":null,"scale":{"domain":[0,1],"range":[754.3,762.3],"nice":false,"zero":false}},"x2":{"datum":1},"y":{"field":"lo","type":"quantitative","axis":{"orient":"right","offset":-37.7,"values":[-10,-9,-8,-7,-6,-5,-4,-3,-2,-1,0,1,2,3,4,5,6,7,8,9,10],"labelExpr":"datum.value%5===0?abs(datum.value):''","tickSize":3,"tickColor":"#888888","labelPadding":2,"labelFontSize":11,"labelColor":"#444444"},"scale":{"domain":[-10,10],"range":[594.3,482.7],"nice":false,"zero":false}},"y2":{"field":"hi"},"color":{"field":"mid","type":"quantitative","legend":null,"scale":{"interpolate":"rgb","domain":[-10,-5,0,5,10],"range":["#ed1c24","#f58e8b","#ffffff","#a9abd6","#3953a4"]}}}},
{"data":{"values":[{"t":"bypasses","q":0.55,"v":14.8},{"t":"proximal","q":0.55,"v":12.6},{"t":"uses","q":0.55,"v":-11.6},{"t":"proximal","q":0.55,"v":-13.8}]},"mark":{"type":"text","align":"center","fontSize":12.2},"encoding":{"text":{"field":"t"},"x":{"field":"q","type":"quantitative","axis":null,"scale":{"domain":[0,1],"range":[754.3,762.3],"nice":false,"zero":false}},"y":{"field":"v","type":"quantitative","axis":null,"scale":{"domain":[-10,10],"range":[594.3,482.7],"nice":false,"zero":false}}}},
{"data":{"values":[{"t":"-log10(p)","q":-1.16,"v":-0.57}]},"mark":{"type":"text","align":"center","angle":270,"fontSize":12.2},"encoding":{"text":{"field":"t"},"x":{"field":"q","type":"quantitative","axis":null,"scale":{"domain":[0,1],"range":[754.3,762.3],"nice":false,"zero":false}},"y":{"field":"v","type":"quantitative","axis":null,"scale":{"domain":[-10,10],"range":[594.3,482.7],"nice":false,"zero":false}}}},
{"data":{"values":[{"p":0,"v":8},{"p":3,"v":9},{"p":6,"v":8},{"p":9,"v":7},{"p":12,"v":7},{"p":15,"v":5},{"p":18,"v":6},{"p":21,"v":10},{"p":24,"v":12},{"p":27,"v":16},{"p":30,"v":19},{"p":33,"v":29},{"p":36,"v":21},{"p":39,"v":12},{"p":42,"v":11},{"p":45,"v":10},{"p":48,"v":16},{"p":51,"v":17},{"p":54,"v":21},{"p":57,"v":20},{"p":60,"v":18},{"p":63,"v":14},{"p":66,"v":22},{"p":69,"v":21},{"p":72,"v":21},{"p":75,"v":14},{"p":78,"v":30},{"p":81,"v":17},{"p":84,"v":37},{"p":87,"v":23},{"p":90,"v":24},{"p":93,"v":14},{"p":96,"v":8},{"p":99,"v":12},{"p":102,"v":17},{"p":105,"v":14},{"p":108,"v":18},{"p":111,"v":18},{"p":114,"v":18},{"p":117,"v":24},{"p":120,"v":19},{"p":123,"v":28},{"p":126,"v":25},{"p":129,"v":16},{"p":132,"v":17},{"p":135,"v":17},{"p":138,"v":18},{"p":141,"v":18},{"p":144,"v":19},{"p":147,"v":16},{"p":150,"v":18},{"p":153,"v":24},{"p":156,"v":17},{"p":159,"v":29},{"p":162,"v":28},{"p":165,"v":17},{"p":168,"v":26},{"p":171,"v":17},{"p":174,"v":19},{"p":177,"v":18},{"p":180,"v":13},{"p":183,"v":23},{"p":186,"v":38},{"p":189,"v":23},{"p":192,"v":54},{"p":195,"v":38},{"p":198,"v":48},{"p":201,"v":39},{"p":204,"v":30},{"p":207,"v":23},{"p":210,"v":14},{"p":213,"v":18},{"p":216,"v":23},{"p":219,"v":20},{"p":222,"v":19},{"p":225,"v":18},{"p":228,"v":18},{"p":231,"v":9},{"p":234,"v":17},{"p":237,"v":19},{"p":240,"v":20},{"p":243,"v":17},{"p":246,"v":16},{"p":249,"v":3},{"p":252,"v":2},{"p":255,"v":3},{"p":258,"v":4},{"p":261,"v":5},{"p":264,"v":3},{"p":267,"v":4},{"p":270,"v":4},{"p":273,"v":3},{"p":276,"v":3},{"p":279,"v":4},{"p":282,"v":5},{"p":285,"v":6},{"p":288,"v":7},{"p":291,"v":7},{"p":294,"v":8},{"p":297,"v":8},{"p":300,"v":6},{"p":303,"v":4},{"p":306,"v":4},{"p":309,"v":3},{"p":312,"v":4},{"p":315,"v":4},{"p":318,"v":4},{"p":321,"v":4},{"p":324,"v":4},{"p":327,"v":5},{"p":330,"v":4},{"p":333,"v":7},{"p":336,"v":4},{"p":339,"v":3},{"p":342,"v":2},{"p":345,"v":1},{"p":347,"v":0}]},
"mark":{"type":"area","color":"#231f20","interpolate":"step-after"},"encoding":{"x":{"field":"p","type":"quantitative","axis":null,"scale":{"domain":[0,345],"range":[135,480],"nice":false,"zero":false}},"y":{"field":"v","type":"quantitative","stack":null,"axis":null,"scale":{"domain":[0,54],"range":[772.3,718.3],"nice":false,"zero":false}}}},
{"data":{"values":[{"p":38.3,"p2":44.3,"v":16.6},{"p":215,"p2":221,"v":5.7},{"p":243,"p2":249,"v":20.7},{"p":257,"p2":263,"v":2.5},{"p":317.3,"p2":323,"v":2.5},{"p":327,"p2":335.7,"v":3.6},{"p":339.7,"p2":341.7,"v":22.6},{"p":341.7,"p2":347.3,"v":37}]},
"mark":{"type":"rect","color":"#231f20"},"encoding":{"x":{"field":"p","type":"quantitative","axis":null,"scale":{"domain":[0,345],"range":[135,480],"nice":false,"zero":false}},"x2":{"field":"p2"},"y":{"field":"v","type":"quantitative","stack":null,"axis":null,"scale":{"domain":[0,37],"range":[829.3,775],"nice":false,"zero":false}},"y2":{"datum":0}}},
{"data":{"values":[
{"p":-100,"p2":371,"l":-6.64,"l2":-6.64,"k":"axis"},{"p":-100,"p2":371,"l":-3.5,"l2":-3.5,"k":"divider"},{"p":-100,"p2":371,"l":-1.87,"l2":-1.87,"k":"axis"},{"p":-100,"p2":371,"l":1.86,"l2":1.86,"k":"axis"},{"p":-30.7,"p2":-30.7,"l":-9.68,"l2":4.87,"k":"axis"},
{"p":131,"p2":131,"l":-3.17,"l2":-2.2,"k":"pas"},{"p":217,"p2":217,"l":-3.17,"l2":-2.2,"k":"pas"},{"p":222,"p2":222,"l":-3.17,"l2":-2.2,"k":"pas"},{"p":246,"p2":246,"l":-3.17,"l2":-2.2,"k":"pas"},{"p":321.7,"p2":321.7,"l":-3.17,"l2":-2.2,"k":"pas"},{"p":344.7,"p2":344.7,"l":-3.17,"l2":-2.2,"k":"pas"},
{"p":246.7,"p2":347.3,"l":-8.61,"l2":-8.61,"k":"scale"},{"p":246.7,"p2":246.7,"l":-8.96,"l2":-8.24,"k":"scale"},{"p":347.3,"p2":347.3,"l":-8.96,"l2":-8.24,"k":"scale"},
{"p":-17.3,"p2":0,"l":0,"l2":0,"k":"lead"},{"p":0,"p2":40,"l":0,"l2":0,"k":"exon"},{"p":40,"p2":251,"l":0,"l2":0,"k":"utr"},
{"p":-17.3,"p2":0,"l":2.98,"l2":2.98,"k":"lead"},{"p":0,"p2":349.3,"l":2.98,"l2":2.98,"k":"utr"},{"p":-17.3,"p2":0,"l":3.98,"l2":3.98,"k":"lead"},{"p":0,"p2":249,"l":3.98,"l2":3.98,"k":"utr"}]},
"mark":"rule","encoding":{"x":{"field":"p","type":"quantitative","axis":null,"scale":{"domain":[0,345],"range":[135,480],"nice":false,"zero":false}},"x2":{"field":"p2"},"y":{"field":"l","type":"quantitative","axis":null,"scale":{"domain":[-10,5.5],"range":[712.3,991.3],"nice":false,"zero":false}},"y2":{"field":"l2"},"strokeWidth":{"field":"k","type":"nominal","legend":null,"scale":{"type":"ordinal","domain":["lead","utr","exon","divider","axis","scale","pas"],"range":[1,9,23,1.2,1.5,1,2.5]}},"color":{"field":"k","type":"nominal","legend":null,"scale":{"domain":["lead","utr","exon","divider","axis","scale","pas"],"range":["#666666","#231f20","#231f20","#555555","#a3a3a3","#555555","#231f20"]}}}},
{"data":{"values":[{"probe":"Uni","p":17.7,"l":4.76},{"probe":"Uni","p":25,"l":4.78},{"probe":"Uni","p":35,"l":4.85},{"probe":"Uni","p":45,"l":4.92},{"probe":"Uni","p":55.7,"l":4.84},{"probe":"Ext","p":285,"l":4.78},{"probe":"Ext","p":292,"l":4.76},{"probe":"Ext","p":302,"l":4.84},{"probe":"Ext","p":312,"l":4.9},{"probe":"Ext","p":323,"l":4.83}]},
"mark":{"type":"line","strokeWidth":2.6,"interpolate":"monotone"},"encoding":{"x":{"field":"p","type":"quantitative","axis":null,"scale":{"domain":[0,345],"range":[135,480],"nice":false,"zero":false}},"y":{"field":"l","type":"quantitative","axis":null,"scale":{"domain":[-10,5.5],"range":[712.3,991.3],"nice":false,"zero":false}},"color":{"field":"probe","type":"nominal","legend":null,"scale":{"domain":["Uni","Ext"],"range":["#12a651","#d9232e"]}}}},
{"data":{"values":[{"t":"RNA-seq","p":-37.7,"l":-8.24},{"t":"3'seq","p":-37.7,"l":-5.07},{"t":"PAS","p":-37.7,"l":-2.68},{"t":"Ensembl 73","p":-37.7,"l":0},{"t":"IsoSCM","p":-37.7,"l":3.48}]},"mark":{"type":"text","align":"right"},"encoding":{"text":{"field":"t"},"x":{"field":"p","type":"quantitative","axis":null,"scale":{"domain":[0,345],"range":[135,480],"nice":false,"zero":false}},"y":{"field":"l","type":"quantitative","axis":null,"scale":{"domain":[-10,5.5],"range":[712.3,991.3],"nice":false,"zero":false}}}},
{"data":{"values":[{"t":"[0-441]","p":-27,"l":-9.29},{"t":"[0-37]","p":-27,"l":-6.07}]},"mark":{"type":"text","align":"left","fontSize":11.8},"encoding":{"text":{"field":"t"},"x":{"field":"p","type":"quantitative","axis":null,"scale":{"domain":[0,345],"range":[135,480],"nice":false,"zero":false}},"y":{"field":"l","type":"quantitative","axis":null,"scale":{"domain":[-10,5.5],"range":[712.3,991.3],"nice":false,"zero":false}}}},
{"data":{"values":[{"t":"probes:","p":-31,"l":5.47}]},"mark":{"type":"text","align":"left","fontSize":13.8},"encoding":{"text":{"field":"t"},"x":{"field":"p","type":"quantitative","axis":null,"scale":{"domain":[0,345],"range":[135,480],"nice":false,"zero":false}},"y":{"field":"l","type":"quantitative","axis":null,"scale":{"domain":[-10,5.5],"range":[712.3,991.3],"nice":false,"zero":false}}}},
{"data":{"values":[{"t":"Uni","p":37.3,"l":5.47},{"t":"Ext","p":305,"l":5.47},{"t":"1.5kb","p":296.7,"l":-9.35}]},"mark":{"type":"text","align":"center","fontSize":14.5},"encoding":{"text":{"field":"t"},"x":{"field":"p","type":"quantitative","axis":null,"scale":{"domain":[0,345],"range":[135,480],"nice":false,"zero":false}},"y":{"field":"l","type":"quantitative","axis":null,"scale":{"domain":[-10,5.5],"range":[712.3,991.3],"nice":false,"zero":false}}}},
{"data":{"values":[{"t":"Shank2","p":96.7,"l":-0.96}]},"mark":{"type":"text","align":"left","fontSize":15,"fontStyle":"italic"},"encoding":{"text":{"field":"t"},"x":{"field":"p","type":"quantitative","axis":null,"scale":{"domain":[0,345],"range":[135,480],"nice":false,"zero":false}},"y":{"field":"l","type":"quantitative","axis":null,"scale":{"domain":[-10,5.5],"range":[712.3,991.3],"nice":false,"zero":false}}}},
{"data":{"values":[
{"g1":0,"g2":37,"m1":0,"m2":10,"ink":0.1},{"g1":0,"g2":37,"m1":10,"m2":20,"ink":0.18},{"g1":0,"g2":37,"m1":20,"m2":45,"ink":0.28},{"g1":0,"g2":37,"m1":45,"m2":70,"ink":0.2},{"g1":0,"g2":37,"m1":70,"m2":100,"ink":0.14},{"g1":0,"g2":37,"m1":100,"m2":145,"ink":0.12},{"g1":0,"g2":37,"m1":145,"m2":155,"ink":0.17},{"g1":0,"g2":37,"m1":155,"m2":180,"ink":0.08},{"g1":0,"g2":37,"m1":180,"m2":210,"ink":0.05},
{"g1":3,"g2":34,"m1":0,"m2":10,"ink":0.16},{"g1":3,"g2":34,"m1":10,"m2":15,"ink":0.3},{"g1":3,"g2":34,"m1":15,"m2":22,"ink":0.45},{"g1":3,"g2":34,"m1":22,"m2":45,"ink":0.5},{"g1":3,"g2":34,"m1":45,"m2":60,"ink":0.38},{"g1":3,"g2":34,"m1":60,"m2":80,"ink":0.28},{"g1":3,"g2":34,"m1":80,"m2":110,"ink":0.23},{"g1":3,"g2":34,"m1":110,"m2":145,"ink":0.19},{"g1":3,"g2":34,"m1":145,"m2":155,"ink":0.26},{"g1":3,"g2":34,"m1":155,"m2":180,"ink":0.15},{"g1":3,"g2":34,"m1":180,"m2":210,"ink":0.08},
{"g1":6,"g2":31,"m1":0,"m2":6,"ink":0.2},{"g1":6,"g2":31,"m1":6,"m2":12,"ink":0.28},{"g1":6,"g2":31,"m1":12,"m2":16,"ink":0.42},{"g1":6,"g2":31,"m1":16,"m2":20,"ink":0.6},{"g1":6,"g2":31,"m1":20,"m2":24,"ink":0.7},{"g1":6,"g2":31,"m1":24,"m2":26,"ink":0.72},{"g1":6,"g2":31,"m1":26,"m2":30,"ink":0.85},{"g1":6,"g2":31,"m1":30,"m2":33,"ink":0.62},{"g1":6,"g2":31,"m1":33,"m2":35,"ink":0.7},{"g1":6,"g2":31,"m1":35,"m2":41,"ink":0.92},{"g1":6,"g2":31,"m1":41,"m2":45,"ink":0.68},{"g1":6,"g2":31,"m1":45,"m2":55,"ink":0.53},{"g1":6,"g2":31,"m1":55,"m2":65,"ink":0.47},{"g1":6,"g2":31,"m1":65,"m2":76,"ink":0.4},{"g1":6,"g2":31,"m1":76,"m2":82,"ink":0.42},{"g1":6,"g2":31,"m1":82,"m2":105,"ink":0.33},{"g1":6,"g2":31,"m1":105,"m2":125,"ink":0.3},{"g1":6,"g2":31,"m1":125,"m2":145,"ink":0.27},{"g1":6,"g2":31,"m1":145,"m2":152,"ink":0.36},{"g1":6,"g2":31,"m1":152,"m2":175,"ink":0.23},{"g1":6,"g2":31,"m1":175,"m2":195,"ink":0.16},{"g1":6,"g2":31,"m1":195,"m2":210,"ink":0.1},
{"g1":83,"g2":119,"m1":0,"m2":10,"ink":0.08},{"g1":83,"g2":119,"m1":10,"m2":20,"ink":0.16},{"g1":83,"g2":119,"m1":20,"m2":40,"ink":0.27},{"g1":83,"g2":119,"m1":40,"m2":80,"ink":0.2},{"g1":83,"g2":119,"m1":80,"m2":140,"ink":0.16},{"g1":83,"g2":119,"m1":140,"m2":155,"ink":0.2},{"g1":83,"g2":119,"m1":155,"m2":180,"ink":0.1},{"g1":83,"g2":119,"m1":180,"m2":210,"ink":0.05},
{"g1":86,"g2":116,"m1":0,"m2":10,"ink":0.15},{"g1":86,"g2":116,"m1":10,"m2":18,"ink":0.28},{"g1":86,"g2":116,"m1":18,"m2":40,"ink":0.48},{"g1":86,"g2":116,"m1":40,"m2":80,"ink":0.36},{"g1":86,"g2":116,"m1":80,"m2":140,"ink":0.28},{"g1":86,"g2":116,"m1":140,"m2":155,"ink":0.3},{"g1":86,"g2":116,"m1":155,"m2":180,"ink":0.18},{"g1":86,"g2":116,"m1":180,"m2":210,"ink":0.08},
{"g1":90,"g2":113,"m1":0,"m2":8,"ink":0.22},{"g1":90,"g2":113,"m1":8,"m2":14,"ink":0.35},{"g1":90,"g2":113,"m1":14,"m2":20,"ink":0.52},{"g1":90,"g2":113,"m1":20,"m2":24,"ink":0.6},{"g1":90,"g2":113,"m1":24,"m2":30,"ink":0.92},{"g1":90,"g2":113,"m1":30,"m2":34,"ink":0.65},{"g1":90,"g2":113,"m1":34,"m2":45,"ink":0.55},{"g1":90,"g2":113,"m1":45,"m2":60,"ink":0.5},{"g1":90,"g2":113,"m1":60,"m2":75,"ink":0.46},{"g1":90,"g2":113,"m1":75,"m2":82,"ink":0.47},{"g1":90,"g2":113,"m1":82,"m2":105,"ink":0.42},{"g1":90,"g2":113,"m1":105,"m2":125,"ink":0.38},{"g1":90,"g2":113,"m1":125,"m2":143,"ink":0.36},{"g1":90,"g2":113,"m1":143,"m2":152,"ink":0.42},{"g1":90,"g2":113,"m1":152,"m2":175,"ink":0.27},{"g1":90,"g2":113,"m1":175,"m2":195,"ink":0.17},{"g1":90,"g2":113,"m1":195,"m2":210,"ink":0.1}]},
"mark":"rect","encoding":{"x":{"field":"g1","type":"quantitative","axis":null,"scale":{"domain":[0,119],"range":[618.5,737.5],"nice":false,"zero":false}},"x2":{"field":"g2"},"y":{"field":"m1","type":"quantitative","axis":null,"scale":{"domain":[0,210],"range":[775,985],"nice":false,"zero":false}},"y2":{"field":"m2"},"color":{"field":"ink","type":"quantitative","legend":null,"scale":{"domain":[0,1],"range":["#ffffff","#000000"],"interpolate":"rgb"}}}},
{"data":{"values":[{"g":11.5,"m":146,"ink":0.52,"a":14},{"g":21.5,"m":160,"ink":0.3,"a":60},{"g":33.8,"m":180.7,"ink":0.6,"a":22},{"g":94.8,"m":146,"ink":0.52,"a":14},{"g":108.8,"m":119,"ink":0.5,"a":6},{"g":117.2,"m":180.7,"ink":0.55,"a":22}]},
"mark":{"type":"circle","opacity":1},"encoding":{"x":{"field":"g","type":"quantitative","axis":null,"scale":{"domain":[0,119],"range":[618.5,737.5],"nice":false,"zero":false}},"y":{"field":"m","type":"quantitative","axis":null,"scale":{"domain":[0,210],"range":[775,985],"nice":false,"zero":false}},"size":{"field":"a","type":"quantitative","legend":null,"scale":null},"color":{"field":"ink","type":"quantitative","legend":null,"scale":{"domain":[0,1],"range":["#ffffff","#000000"],"interpolate":"rgb"}}}},
{"data":{"values":[{"g":-8.5,"g2":128.2,"m":-32.3,"k":"title"},{"g":-0.2,"g2":36.2,"m":-1.7,"k":"Uni"},{"g":82.8,"g2":119.2,"m":-1.7,"k":"Ext"}]},
"mark":"rule","encoding":{"x":{"field":"g","type":"quantitative","axis":null,"scale":{"domain":[0,119],"range":[618.5,737.5],"nice":false,"zero":false}},"x2":{"field":"g2"},"y":{"field":"m","type":"quantitative","axis":null,"scale":{"domain":[0,210],"range":[775,985],"nice":false,"zero":false}},"strokeWidth":{"field":"k","type":"nominal","legend":null,"scale":{"type":"ordinal","domain":["title","Uni","Ext"],"range":[1.2,3.5,3.5]}},"color":{"field":"k","type":"nominal","legend":null,"scale":{"domain":["title","Uni","Ext"],"range":["#231f20","#12a651","#d9232e"]}}}},
{"data":{"values":[{"iso":"9.7","g":45,"m":28},{"iso":"8.2","g":45,"m":38.3},{"iso":"9.7","g":129.5,"m":28.7}]},
"mark":{"type":"point","filled":true,"opacity":1,"shape":"M-1,0L1,-0.62L1,0.62Z","size":300},"encoding":{"x":{"field":"g","type":"quantitative","axis":null,"scale":{"domain":[0,119],"range":[618.5,737.5],"nice":false,"zero":false}},"y":{"field":"m","type":"quantitative","axis":null,"scale":{"domain":[0,210],"range":[775,985],"nice":false,"zero":false}},"color":{"field":"iso","type":"nominal","legend":null,"scale":{"domain":["9.7","8.2"],"range":["#ed1c24","#12a651"]}}}},
{"data":{"values":[{"t":"16-","m":7.7},{"t":"13-","m":16},{"t":"9.0-","m":31.7},{"t":"7.0-","m":51.7},{"t":"5.5-","m":67.3},{"t":"4.7-","m":79},{"t":"3.0-","m":107.3},{"t":"1.9-","m":151},{"t":"1.0-","m":176.7},{"t":"0.8-","m":196}]},
"mark":{"type":"text","align":"right","fontSize":11.8},"encoding":{"text":{"field":"t"},"x":{"datum":-1,"type":"quantitative","axis":null,"scale":{"domain":[0,119],"range":[618.5,737.5],"nice":false,"zero":false}},"y":{"field":"m","type":"quantitative","axis":null,"scale":{"domain":[0,210],"range":[775,985],"nice":false,"zero":false}}}},
{"data":{"values":[{"t":"9.7","g":56.5,"m":27},{"t":"8.2","g":56.5,"m":38.7}]},"mark":{"type":"text","align":"left","fontSize":11.8},"encoding":{"text":{"field":"t"},"x":{"field":"g","type":"quantitative","axis":null,"scale":{"domain":[0,119],"range":[618.5,737.5],"nice":false,"zero":false}},"y":{"field":"m","type":"quantitative","axis":null,"scale":{"domain":[0,210],"range":[775,985],"nice":false,"zero":false}}}},
{"data":{"values":[{"t":"Shank2","g":32.5,"m":-44.3}]},"mark":{"type":"text","align":"left","fontSize":15.7,"fontStyle":"italic"},"encoding":{"text":{"field":"t"},"x":{"field":"g","type":"quantitative","axis":null,"scale":{"domain":[0,119],"range":[618.5,737.5],"nice":false,"zero":false}},"y":{"field":"m","type":"quantitative","axis":null,"scale":{"domain":[0,210],"range":[775,985],"nice":false,"zero":false}}}},
{"data":{"values":[{"t":"Uni","g":20,"m":-17},{"t":"Ext","g":101.5,"m":-17}]},"mark":{"type":"text","align":"center","angle":270,"fontSize":14},"encoding":{"text":{"field":"t"},"x":{"field":"g","type":"quantitative","axis":null,"scale":{"domain":[0,119],"range":[618.5,737.5],"nice":false,"zero":false}},"y":{"field":"m","type":"quantitative","axis":null,"scale":{"domain":[0,210],"range":[775,985],"nice":false,"zero":false}}}},
{"data":{"values":[{"t":"A","a":0.0105,"d":0.012},{"t":"B","a":0.009,"d":0.4244},{"t":"C","a":0.009,"d":0.7267},{"t":"D","a":0.694,"d":0.7267}]},"mark":{"type":"text","align":"center","fontSize":19,"fontWeight":"bold","color":"#231f20"},"encoding":{"text":{"field":"t"},"x":{"field":"a","type":"quantitative","axis":null,"scale":{"domain":[0,1],"range":[0,800],"nice":false,"zero":false}},"y":{"field":"d","type":"quantitative","axis":null,"scale":{"domain":[0,1],"range":[0,999],"nice":false,"zero":false}}}}
]}
